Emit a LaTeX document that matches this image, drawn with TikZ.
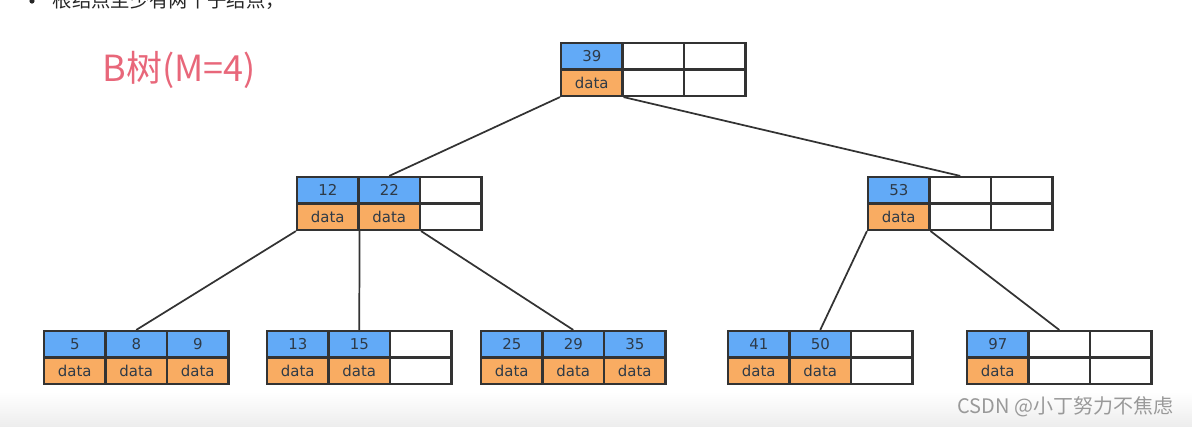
\documentclass[tikz,border=0pt]{standalone}
\usepackage{fontspec}
\setmainfont{DejaVu Sans}
\newfontfamily\cjk{Noto Sans CJK SC}
\usepackage{tikz}

\definecolor{keyblue}{HTML}{62AAF7}
\definecolor{dataorange}{HTML}{F9AC62}
\definecolor{linegray}{HTML}{333333}
\definecolor{celltext}{HTML}{2E3A47}
\definecolor{titlered}{HTML}{E8677A}

\tikzset{
  cell/.style={draw=linegray, line width=1.6pt, minimum width=46.1pt,
    minimum height=19.9pt, inner sep=0pt, text=celltext,
    font=\fontsize{11.2}{13}\selectfont},
  key/.style={cell, fill=keyblue},
  dat/.style={cell, fill=dataorange},
  nil/.style={cell, fill=white},
  edge/.style={draw=linegray, line width=1.3pt}
}

% one column of a tree node: name, centre x, top y, key (empty = free slot)
\newcommand{\bcell}[4]{%
  \if\relax\detokenize{#4}\relax
    \node[nil] (#1k) at (#2,#3+13.25) {};
    \node[nil] (#1d) at (#2,#3+39.75) {};
  \else
    \node[key] (#1k) at (#2,#3+13.25) {#4};
    \node[dat] (#1d) at (#2,#3+39.75) {data};
  \fi}
% a tree node with three slots: name, left x, top y, three keys
\newcommand{\btnode}[6]{%
  \bcell{#1-1}{#2+30.75}{#3}{#4}
  \bcell{#1-2}{#2+92.25}{#3}{#5}
  \bcell{#1-3}{#2+153.75}{#3}{#6}}

\begin{document}
\begin{tikzpicture}[x=0.75pt,y=-0.75pt]
  \useasboundingbox (0,0) rectangle (1192,426);
  \clip (0,0) rectangle (1192,426);
  \shade[top color=white, bottom color=black!7] (0,392) rectangle (1192,426);

  % heading line, cut off at the top
  \fill[black!85] (32,1) circle (2.6);
  \node[anchor=base west, text=black!85, font=\cjk\fontsize{14.5}{16}\selectfont]
    (rule) at (48,7) {根结点至少有两个子结点，};
  \node[text=titlered, font=\cjk\fontsize{27}{30}\selectfont] (title) at (179,70) {B树(M=4)};

  % tree nodes
  \btnode{root}{561}{43}{39}{}{}
  \btnode{lft}{297}{177}{12}{22}{}
  \btnode{rgt}{868}{177}{53}{}{}
  \btnode{lf1}{44}{331}{5}{8}{9}
  \btnode{lf2}{267}{331}{13}{15}{}
  \btnode{lf3}{481}{331}{25}{29}{35}
  \btnode{lf4}{728}{331}{41}{50}{}
  \btnode{lf5}{967}{331}{97}{}{}

  % pointers
  \draw[edge] (root-1d.south west) -- (lft-2k.north);
  \draw[edge] (root-1d.south east) -- (rgt-2k.north);
  \draw[edge] (lft-1d.south west) -- (lf1-2k.north);
  \draw[edge] (lft-1d.south east) -- (lf2-2k.north);
  \draw[edge] (lft-2d.south east) -- (lf3-2k.north);
  \draw[edge] (rgt-1d.south west) -- (lf4-2k.north);
  \draw[edge] (rgt-1d.south east) -- (lf5-2k.north);

  \node[anchor=east, text=black!40, font=\cjk\fontsize{15}{17}\selectfont]
    (mark) at (1178,407) {CSDN @小丁努力不焦虑};
\end{tikzpicture}
\end{document}
